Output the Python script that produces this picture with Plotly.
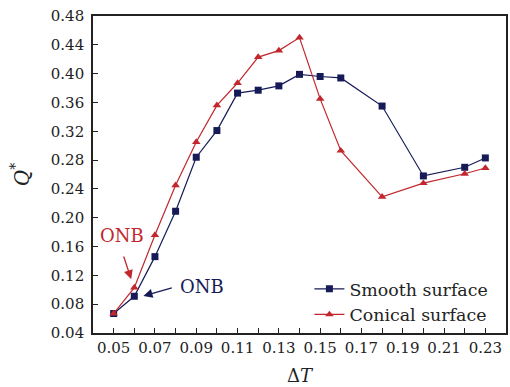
import plotly.graph_objects as go

dT = [0.05, 0.06, 0.07, 0.08, 0.09, 0.10, 0.11, 0.12, 0.13, 0.14, 0.15, 0.16, 0.18, 0.20, 0.22, 0.23]
smooth = [0.067, 0.091, 0.146, 0.209, 0.284, 0.321, 0.373, 0.377, 0.383, 0.399, 0.396, 0.394, 0.355, 0.258, 0.270, 0.283]
conical = [0.067, 0.103, 0.176, 0.245, 0.305, 0.356, 0.387, 0.423, 0.432, 0.450, 0.365, 0.293, 0.229, 0.248, 0.261, 0.269]
xticks = [0.05, 0.07, 0.09, 0.11, 0.13, 0.15, 0.17, 0.19, 0.21, 0.23]
yticks = [0.04, 0.08, 0.12, 0.16, 0.20, 0.24, 0.28, 0.32, 0.36, 0.40, 0.44, 0.48]

NAVY = "#161b57"
RED = "#c1272d"
FONT = "'DejaVu Serif', 'Liberation Serif', serif"

fig = go.Figure()
fig.add_trace(go.Scatter(x=dT, y=smooth, mode="lines+markers", name="Smooth surface",
                         line=dict(color=NAVY, width=1.2),
                         marker=dict(symbol="square", size=7, color=NAVY)))
fig.add_trace(go.Scatter(x=dT, y=conical, mode="lines+markers", name="Conical surface",
                         line=dict(color=RED, width=1.2),
                         marker=dict(symbol="triangle-up", size=7.5, color=RED)))

fig.add_annotation(x=0.0585, y=0.1146, ax=0.0532, ay=0.1608, xref="x", yref="y", axref="x", ayref="y",
                   text=" ", showarrow=True, arrowhead=2, arrowsize=1.4, arrowwidth=1.3, arrowcolor=RED)
fig.add_annotation(x=0.0541, y=0.175, text="ONB", showarrow=False, xref="x", yref="y",
                   font=dict(family=FONT, size=18, color=RED))
fig.add_annotation(x=0.0644, y=0.0914, ax=0.0801, ay=0.1043, xref="x", yref="y", axref="x", ayref="y",
                   text=" ", showarrow=True, arrowhead=2, arrowsize=1.4, arrowwidth=1.3, arrowcolor=NAVY)
fig.add_annotation(x=0.0928, y=0.1039, text="ONB", showarrow=False, xref="x", yref="y",
                   font=dict(family=FONT, size=18, color=NAVY))

fig.update_layout(
    width=510, height=387,
    margin=dict(l=93, r=2, t=16, b=54),
    paper_bgcolor="white", plot_bgcolor="white",
    font=dict(family=FONT, size=15, color="#222"),
    showlegend=True,
    legend=dict(x=0.524, y=0.0, xanchor="left", yanchor="bottom",
                bgcolor="rgba(0,0,0,0)", font=dict(family=FONT, size=17.4, color="#222"),
                tracegroupgap=0, itemwidth=30),
    xaxis=dict(range=[0.04, 0.24], tickvals=xticks, ticktext=[f"{v:.2f}" for v in xticks],
               ticks="inside", ticklen=5, tickwidth=1, tickcolor="#222",
               minor=dict(dtick=0.01, tick0=0.04, ticks="inside", ticklen=5, tickwidth=1, tickcolor="#222"),
               showline=True, linecolor="#222", linewidth=1.6, mirror=True, showgrid=False, zeroline=False,
               title=dict(text="Δ<i>T</i>", font=dict(family=FONT, size=18), standoff=14)),
    yaxis=dict(range=[0.04, 0.48], tickvals=yticks, ticktext=[f"{v:.2f}" for v in yticks],
               ticks="inside", ticklen=5, tickwidth=1, tickcolor="#222", ticklabelstandoff=4,
               showline=True, linecolor="#222", linewidth=1.6, mirror=True, showgrid=False, zeroline=False,
               title=dict(text="<i>Q</i><sup>*</sup>", font=dict(family=FONT, size=20), standoff=16)),
)

fig.write_html("out.html")
